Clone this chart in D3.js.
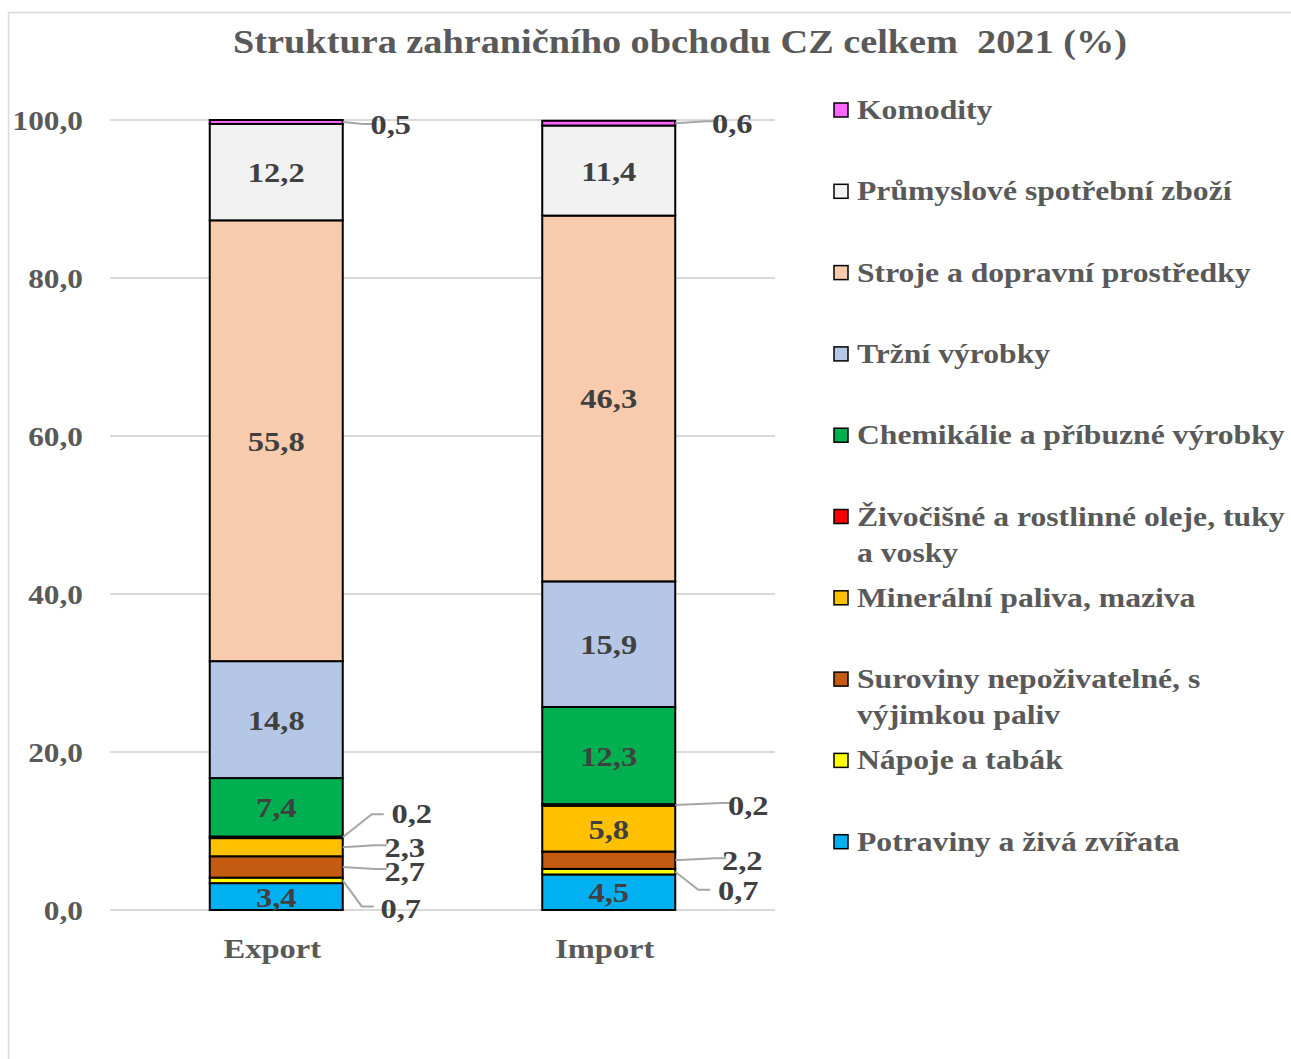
<!DOCTYPE html>
<html>
<head>
  <meta charset="utf-8">
  <script src="https://d3js.org/d3.v7.min.js"></script>
  <style>
    body { margin: 0; background: #fff; font-family: 'Liberation Serif', 'Times New Roman', serif; }
    text { white-space: pre; }
  </style>
</head>
<body>
  <div id="my_dataviz"></div>
  <script>
    // categories and series (bottom to top of the stack)
    var groups = ["Export", "Import"];
    var series = [
      "Potraviny a živá zvířata",
      "Nápoje a tabák",
      "Suroviny nepoživatelné, s výjimkou paliv",
      "Minerální paliva, maziva",
      "Živočišné a rostlinné oleje, tuky a vosky",
      "Chemikálie a příbuzné výrobky",
      "Tržní výrobky",
      "Stroje a dopravní prostředky",
      "Průmyslové spotřební zboží",
      "Komodity"
    ];
    var exportValues = [3.4, 0.7, 2.7, 2.3, 0.2, 7.4, 14.8, 55.8, 12.2, 0.5];
    var importValues = [4.5, 0.7, 2.2, 5.8, 0.2, 12.3, 15.9, 46.3, 11.4, 0.6];
    var colors = ["#00B0F0", "#FFFF00", "#C55A11", "#FFC000", "#FF0000",
                  "#00B050", "#B4C7E7", "#F8CBAD", "#F2F2F2", "#FF66FF"];
    var yTicks = [0, 20, 40, 60, 80, 100];

    // legend lines (wrapped like the original)
    var legendLines = {
      "Živočišné a rostlinné oleje, tuky a vosky": ["Živočišné a rostlinné oleje, tuky", "a vosky"],
      "Suroviny nepoživatelné, s výjimkou paliv": ["Suroviny nepoživatelné, s", "výjimkou paliv"]
    };

    var W = 1291, H = 1059;
    var margin = { top: 120, left: 110 };
    var plotW = 665, plotH = 790;
    var stretch = 1.16; // original text is a bit wider than it is tall

    var svg = d3.select("#my_dataviz").append("svg")
      .attr("width", W).attr("height", H);

    function addText(parent, tx, ty, str, size, fill, anchor) {
      return parent.append("text")
        .attr("transform", "translate(" + tx + "," + ty + ") scale(" + stretch + ",1)")
        .attr("text-anchor", anchor || "middle")
        .style("font-size", size + "px").style("font-weight", "bold").style("fill", fill)
        .text(str);
    }

    // outer chart frame
    svg.append("rect")
      .attr("x", 8.5).attr("y", 12.5)
      .attr("width", W + 10).attr("height", H + 10)
      .attr("fill", "none").attr("stroke", "#d9d9d9").attr("stroke-width", 1.5);

    addText(svg, 680, 53, "Struktura zahraničního obchodu CZ celkem  2021 (%)", 33, "#595959");

    var g = svg.append("g").attr("transform", "translate(" + margin.left + "," + margin.top + ")");

    var x = d3.scaleBand().domain(groups).range([0, plotW]).paddingInner(0.6).paddingOuter(0.3);
    var y = d3.scaleLinear().domain([0, 100]).range([plotH, 0]);

    // grid
    g.selectAll(".grid").data(yTicks).enter().append("line")
      .attr("x1", 0).attr("x2", plotW)
      .attr("y1", function (d) { return y(d); }).attr("y2", function (d) { return y(d); })
      .attr("stroke", "#d9d9d9").attr("stroke-width", 2);

    // y axis labels
    yTicks.forEach(function (d) {
      addText(g, -27, y(d) + 10, d.toFixed(1).replace(".", ","), 27, "#595959", "end");
    });

    // x axis labels
    groups.forEach(function (d) {
      addText(g, x(d) + x.bandwidth() / 2 - 4, plotH + 48, d, 28, "#595959");
    });

    // stacked data
    var rows = groups.map(function (gr, i) {
      var vals = i === 0 ? exportValues : importValues;
      var r = { group: gr };
      series.forEach(function (s, j) { r[s] = vals[j]; });
      return r;
    });
    var stacked = d3.stack().keys(series)(rows);

    var layers = g.selectAll(".layer").data(stacked).enter().append("g")
      .attr("fill", function (d, i) { return colors[i]; });

    layers.selectAll("rect").data(function (d) { return d; }).enter().append("rect")
      .attr("x", function (d) { return x(d.data.group); })
      .attr("y", function (d) { return y(d[1]); })
      .attr("width", x.bandwidth())
      .attr("height", function (d) { return y(d[0]) - y(d[1]); })
      .attr("stroke", "#000").attr("stroke-width", 2);

    // labels: inside for big segments, leader line for small ones
    // offsets for the callouts (pixels): [line end dx, line end dy, text dx, text dy]
    var callouts = {
      "Export|Komodity": [20, 2, 48, 12],
      "Export|Živočišné a rostlinné oleje, tuky a vosky": [29, -23, 69, -14],
      "Export|Minerální paliva, maziva": [32, -2, 62, 10],
      "Export|Suroviny nepoživatelné, s výjimkou paliv": [32, 2, 62, 14],
      "Export|Nápoje a tabák": [19, 26, 58, 38],
      "Import|Komodity": [31, -2, 57, 10],
      "Import|Živočišné a rostlinné oleje, tuky a vosky": [46, -2, 73, 10],
      "Import|Suroviny nepoživatelné, s výjimkou paliv": [39, -2, 67, 10],
      "Import|Nápoje a tabák": [23, 18, 63, 28]
    };

    stacked.forEach(function (layer, i) {
      layer.forEach(function (d) {
        var val = d[1] - d[0];
        var key = d.data.group + "|" + series[i];
        var label = val.toFixed(1).replace(".", ",");
        var xr = x(d.data.group) + x.bandwidth();
        var ym = y((d[0] + d[1]) / 2);
        if (callouts[key]) {
          var c = callouts[key];
          var pts = [[xr, ym], [xr + c[0], ym + c[1]], [xr + c[0] + 12, ym + c[1]]];
          g.append("path")
            .attr("d", d3.line()(pts))
            .attr("fill", "none").attr("stroke", "#a6a6a6").attr("stroke-width", 2);
          addText(g, xr + c[2], ym + c[3], label, 28, "#404040");
        } else {
          addText(g, x(d.data.group) + x.bandwidth() / 2, ym + 10, label, 28, "#404040");
        }
      });
    });

    // legend (top to bottom = reverse of stack)
    var legend = svg.append("g").attr("transform", "translate(834,0)");
    var legendItems = series.slice().reverse();
    legendItems.forEach(function (s, k) {
      var cy = 110 + k * 81.3;
      var idx = series.indexOf(s);
      legend.append("rect")
        .attr("x", 0).attr("y", cy - 7).attr("width", 14).attr("height", 14)
        .attr("fill", colors[idx]).attr("stroke", "#000").attr("stroke-width", 1.5);
      var lines = legendLines[s] || [s];
      lines.forEach(function (ln, m) {
        addText(legend, 23, cy + 9 + m * 36, ln, 27.3, "#595959", "start");
      });
    });
  </script>
</body>
</html>
